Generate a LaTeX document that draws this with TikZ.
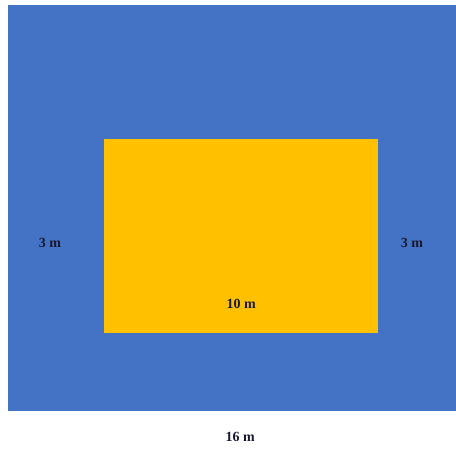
\documentclass[tikz,border=0pt]{standalone}
\usepackage{fontspec}
\setmainfont{Liberation Serif}
\usepackage{xcolor}
\usetikzlibrary{positioning}
\definecolor{lawnblue}{HTML}{4472C4}
\definecolor{pathgold}{HTML}{FFC000}
\definecolor{labelink}{HTML}{1A1A2E}

\begin{document}
\begin{tikzpicture}[
		x=1pt, y=-1pt,
		font=\fontsize{14}{16}\selectfont\bfseries,
		area/.style={draw=none, inner sep=0pt, anchor=north west},
		dim/.style={draw=none, text=labelink, inner sep=1pt}
		]
		
		% Canvas
		\useasboundingbox (0,0) rectangle (456,448);
		\fill[white] (0,0) rectangle (456,448);
		
		% Outer field and inner plot
		\node[area, fill=lawnblue, minimum width=448pt, minimum height=406pt] (field) at (8,5) {};
		\node[area, fill=pathgold, minimum width=274pt, minimum height=194pt] (plot) at (104,139) {};
		
		% Dimension labels
		\node[dim] (leftw) at (50,243) {3 m};
		\node[dim] (rightw) at (412,243) {3 m};
		\node[dim, above=24pt of plot.south] (inner) {10 m};
		\node[dim, below=20pt of field.south, xshift=8pt] (outer) {16 m};
		
	\end{tikzpicture}
\end{document}
